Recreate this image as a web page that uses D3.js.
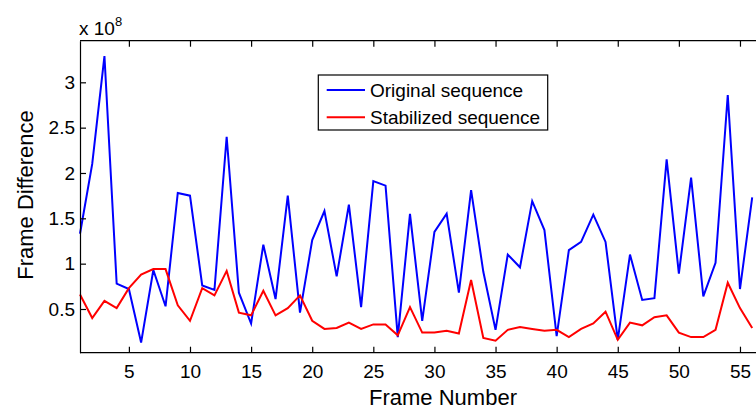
<html>
<script src='https://cdnjs.cloudflare.com/ajax/libs/d3/7.8.5/d3.min.js'></script>
<style>
  body {margin: 0; background: #fff;}
  text {font-family: 'Liberation Sans', Arial, sans-serif; fill: #000;}
</style>
<body onload='init()'>
<svg width=756 height=410></svg>
<script>
// frame numbers 1..56, values in units of 1e8
const frames = d3.range(1, 57);
const original = [1.33, 2.1, 3.29, 0.78, 0.72, 0.13, 0.93, 0.53, 1.78, 1.75,
  0.76, 0.71, 2.40, 0.68, 0.34, 1.21, 0.61, 1.75, 0.46, 1.26,
  1.58, 0.86, 1.65, 0.52, 1.91, 1.86, 0.19, 1.55, 0.37, 1.35,
  1.55, 0.68, 1.81, 0.91, 0.27, 1.10, 0.96, 1.69, 1.37, 0.20,
  1.15, 1.24, 1.54, 1.24, 0.16, 1.10, 0.60, 0.62, 2.15, 0.89,
  1.95, 0.64, 1.01, 2.86, 0.72, 1.73];
const stabilized = [0.66, 0.40, 0.59, 0.51, 0.73, 0.88, 0.94, 0.94, 0.54, 0.37,
  0.73, 0.65, 0.92, 0.46, 0.43, 0.70, 0.43, 0.51, 0.65, 0.37,
  0.28, 0.29, 0.35, 0.28, 0.33, 0.33, 0.21, 0.52, 0.24, 0.24,
  0.26, 0.23, 0.82, 0.18, 0.15, 0.27, 0.30, 0.28, 0.26, 0.27,
  0.19, 0.28, 0.34, 0.47, 0.16, 0.35, 0.32, 0.41, 0.43, 0.24,
  0.19, 0.19, 0.27, 0.79, 0.51, 0.29];
const xTicks = [5, 10, 15, 20, 25, 30, 35, 40, 45, 50, 55];
const yTicks = [0.5, 1, 1.5, 2, 2.5, 3];
const seriesNames = ['Original sequence', 'Stabilized sequence'];
const seriesColors = ['#0000ff', '#ff0000'];

function init() {
  const svg = d3.select('svg');
  const left = 80, top = 40.7, bottom = 352.7, right = 756;

  const x = d3.scaleLinear().domain([1, 56]).range([left, 752.2]);
  const y = d3.scaleLinear().domain([0.018, 3.459]).range([bottom, top]);

  // lines
  const line = d3.line().x((d, i) => x(frames[i])).y(d => y(d));
  [original, stabilized].forEach((s, k) => {
    svg.append('path').datum(s)
      .attr('d', line)
      .attr('fill', 'none')
      .attr('stroke', seriesColors[k])
      .attr('stroke-width', 2);
  });

  // axes (inward ticks, matlab style)
  const font = '19px';
  svg.append('g').attr('transform', 'translate(0,' + bottom + ')')
    .call(d3.axisBottom(x).tickValues(xTicks).tickSizeInner(-6).tickSizeOuter(0).tickPadding(12))
    .call(g => g.select('.domain').attr('d', 'M' + left + ',0H' + right))
    .call(g => g.selectAll('text').attr('font-size', font).attr('font-family', null));

  svg.append('g').attr('transform', 'translate(0,' + top + ')')
    .call(d3.axisTop(x).tickValues(xTicks).tickSizeInner(-6).tickSizeOuter(0).tickFormat(''))
    .call(g => g.select('.domain').attr('d', 'M' + left + ',0H' + right));

  svg.append('g').attr('transform', 'translate(' + left + ',0)')
    .call(d3.axisLeft(y).tickValues(yTicks).tickFormat(d3.format('~g'))
      .tickSizeInner(-6).tickSizeOuter(0).tickPadding(5))
    .call(g => g.selectAll('text').attr('font-size', font).attr('font-family', null));

  svg.selectAll('.domain, .tick line').attr('stroke', '#000').attr('stroke-width', 1.2);

  // exponent label
  const ex = svg.append('text').attr('x', 79).attr('y', 35).attr('font-size', font);
  ex.append('tspan').text('x 10');
  ex.append('tspan').attr('dy', -9).attr('font-size', '13px').text('8');

  // axis titles
  svg.append('text').attr('x', 443).attr('y', 405).attr('text-anchor', 'middle')
    .attr('font-size', '22px').text('Frame Number');
  svg.append('text').attr('transform', 'translate(33,195) rotate(-90)')
    .attr('text-anchor', 'middle').attr('font-size', '22px').text('Frame Difference');

  // legend
  const lg = svg.append('g');
  lg.append('rect').attr('x', 318.3).attr('y', 75).attr('width', 229.4).attr('height', 55)
    .attr('fill', '#fff').attr('stroke', '#000').attr('stroke-width', 1.2);
  seriesNames.forEach((n, i) => {
    const yy = 90 + i * 27.3;
    lg.append('line').attr('x1', 326.7).attr('x2', 365).attr('y1', yy).attr('y2', yy)
      .attr('stroke', seriesColors[i]).attr('stroke-width', 2);
    lg.append('text').attr('x', 370).attr('y', yy + 7).attr('font-size', font).text(n);
  });
}
</script>
</body>
</html>
